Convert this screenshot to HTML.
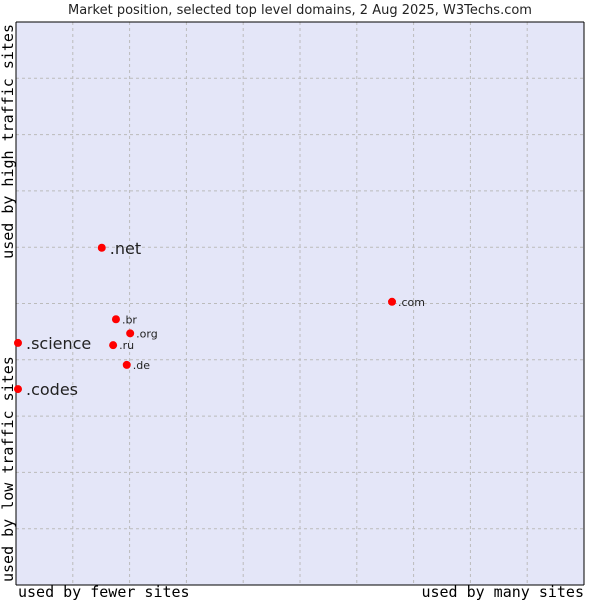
<!DOCTYPE html>
<html><head><meta charset="utf-8"><style>
body{margin:0;background:#fff;font-family:"DejaVu Sans","Liberation Sans",sans-serif}
</style></head><body>
<svg width="600" height="600" xmlns="http://www.w3.org/2000/svg">
<text x="300" y="14" text-anchor="middle" font-size="13" fill="#222" font-family="DejaVu Sans, sans-serif">Market position, selected top level domains, 2 Aug 2025, W3Techs.com</text>
<rect x="16" y="22" width="568" height="563" fill="#e4e6f8"/>
<g id="grid"></g>
<line x1="16" y1="22" x2="16" y2="585" stroke="#000"/>
<line x1="16" y1="585" x2="584" y2="585" stroke="#000"/>
<line x1="16" y1="22" x2="584" y2="22" stroke="#000"/>
<line x1="584" y1="22" x2="584" y2="585" stroke="#000"/>
<g id="points"></g>
<text x="18" y="597" font-size="15" font-family="DejaVu Sans Mono, monospace" fill="#000">used by fewer sites</text>
<text x="584" y="597" text-anchor="end" font-size="15" font-family="DejaVu Sans Mono, monospace" fill="#000">used by many sites</text>
<text transform="translate(13,582) rotate(-90)" font-size="15" font-family="DejaVu Sans Mono, monospace" fill="#000">used by low traffic sites</text>
<text transform="translate(13,24) rotate(-90)" text-anchor="end" font-size="15" font-family="DejaVu Sans Mono, monospace" fill="#000">used by high traffic sites</text>
</svg>
<script>
const labels=[".net",".com",".br",".org",".ru",".de",".science",".codes"];
const xValues=[15.1,66.2,17.6,20.1,17.1,19.5,0.35,0.35];
const yValues=[59.9,50.3,47.2,44.7,42.6,39.1,43.0,34.8];
const bigLabel=[true,false,false,false,false,false,true,true];
const L=16,T=22,W=568,H=563;
const sx=v=>L+v/100*W, sy=v=>T+H-v/100*H;
const ns="http://www.w3.org/2000/svg";
const g=document.getElementById('grid');
for(let i=1;i<10;i++){
 const a=document.createElementNS(ns,'line');
 a.setAttribute('x1',sx(i*10));a.setAttribute('x2',sx(i*10));a.setAttribute('y1',T);a.setAttribute('y2',T+H);
 a.setAttribute('stroke','#bbb');a.setAttribute('stroke-dasharray','3,3');
 
 
 g.appendChild(a);
 const b=document.createElementNS(ns,'line');
 b.setAttribute('y1',sy(i*10));b.setAttribute('y2',sy(i*10));b.setAttribute('x1',L);b.setAttribute('x2',L+W);
 b.setAttribute('stroke','#bbb');b.setAttribute('stroke-dasharray','3,3');
 
 
 g.appendChild(b);
}
const p=document.getElementById('points');
labels.forEach((lb,i)=>{
 const x=sx(xValues[i]),y=sy(yValues[i]);
 const c=document.createElementNS(ns,'circle');
 c.setAttribute('cx',x);c.setAttribute('cy',y);c.setAttribute('r',4);c.setAttribute('fill','#f00');
 
 
 p.appendChild(c);
 const t=document.createElementNS(ns,'text');
 t.setAttribute('x',x+(bigLabel[i]?8:6));t.setAttribute('y',y+(bigLabel[i]?6:4));
 t.setAttribute('font-size',bigLabel[i]?16:11);t.setAttribute('fill','#222');
 t.textContent=lb;
 
 
 p.appendChild(t);
});
</script>
</body></html>
